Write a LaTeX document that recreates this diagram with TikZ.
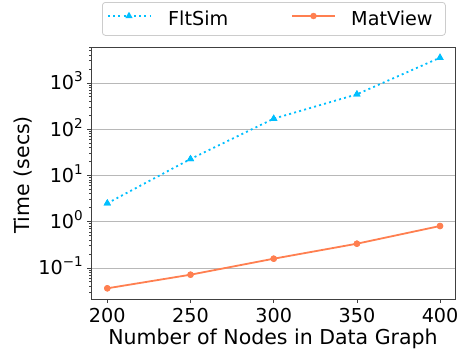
\documentclass[tikz,border=0pt]{standalone}
\usepackage{fontspec}
\setmainfont{DejaVu Sans}
\usetikzlibrary{shapes.geometric}
\definecolor{flt}{HTML}{00BFFF}
\definecolor{mat}{HTML}{FF7F50}
\definecolor{gridc}{HTML}{B8B8B8}
\definecolor{legc}{HTML}{CCCCCC}
\definecolor{axc}{HTML}{404040}
\newcommand\supsc[1]{\raisebox{0.42em}{\fontsize{13.5}{13.5}\selectfont #1}}
\begin{document}
\begin{tikzpicture}[x=1pt,y=-1pt,
  tri/.style={regular polygon, regular polygon sides=3, fill=flt, draw=none, inner sep=0pt, minimum size=8.5pt},
  cdot/.style={circle, fill=mat, draw=none, inner sep=0pt, minimum size=6.5pt},
  ticklab/.style={font=\fontsize{19.2}{19.2}\selectfont, inner sep=0pt},
  axlab/.style={font=\fontsize{20.5}{20.5}\selectfont, inner sep=0pt},
  fltline/.style={flt, line width=1.8pt, dash pattern=on 2pt off 3.2pt},
  matline/.style={mat, line width=1.8pt},
  gridline/.style={gridc, line width=0.8pt},
  tickline/.style={axc, line width=0.8pt}]
\useasboundingbox (0,0) rectangle (458,356);
% grid lines
\foreach \k in {-1,0,1,2,3}{
  \draw[gridline] (91,{221.7-46.25*\k}) -- (455,{221.7-46.25*\k});
}
% minor ticks
\begin{scope}
\clip (80,47) rectangle (95,299);
\foreach \k in {-2,-1,0,1,2,3}{
  \foreach \m in {2,...,9}{
    \draw[tickline] (89,{221.7-46.25*(\k+log10(\m))}) -- (91,{221.7-46.25*(\k+log10(\m))});
  }
}
\end{scope}
% major y ticks and labels
\foreach \k/\t in {-1/{−1},0/0,1/1,2/2,3/3}{
  \draw[tickline] (87,{221.7-46.25*\k}) -- (91,{221.7-46.25*\k});
  \node[ticklab, anchor=base east] (yl\k) at (83,{221.7-46.25*\k+6.9}) {10\supsc{\t}};
}
% x ticks and labels
\foreach \v in {200,250,300,350,400}{
  \draw[tickline] ({107.3+(\v-200)*1.664},299) -- ({107.3+(\v-200)*1.664},303);
  \node[ticklab, anchor=north] (xl\v) at ({107.3+(\v-200)*1.664},308) {\v};
}
% frame
\node[draw=axc, line width=0.8pt, minimum width=364pt, minimum height=252pt, inner sep=0pt, anchor=north west] (axes) at (91,47) {};
% axis labels
\node[axlab, anchor=base] (xlabel) at (273,344) {Number of Nodes in Data Graph};
\node[axlab, anchor=base, rotate=90] (ylabel) at (29.5,175) {Time (secs)};
% FltSim
\node[tri] (f1) at (107.3,203.3) {};
\node[tri] (f2) at (190.5,159) {};
\node[tri] (f3) at (273.7,118.7) {};
\node[tri] (f4) at (356.9,94.3) {};
\node[tri] (f5) at (440,57.7) {};
\draw[fltline] (f1.center) -- (f2.center) -- (f3.center) -- (f4.center) -- (f5.center);
\foreach \i in {1,...,5}{\node[tri] at (f\i.center) {};}
% MatView
\node[cdot] (m1) at (107.3,288.3) {};
\node[cdot] (m2) at (190.5,274.7) {};
\node[cdot] (m3) at (273.7,258.7) {};
\node[cdot] (m4) at (356.9,243.7) {};
\node[cdot] (m5) at (440,226) {};
\draw[matline] (m1.center) -- (m2.center) -- (m3.center) -- (m4.center) -- (m5.center);
\foreach \i in {1,...,5}{\node[cdot] at (m\i.center) {};}
% legend
\node[draw=legc, fill=white, line width=0.8pt, rounded corners=3pt, minimum width=343pt, minimum height=33pt, inner sep=0pt, anchor=north west] (legend) at (102,2) {};
\coordinate (lfa) at (108,16);
\coordinate (lfb) at (150,16);
\draw[fltline] (lfa) -- (lfb);
\node[tri] (lft) at (129,16) {};
\node[ticklab, anchor=base west] (lftext) at (168,25.5) {FltSim};
\coordinate (lma) at (292,16);
\coordinate (lmb) at (335,16);
\draw[matline] (lma) -- (lmb);
\node[cdot] (lmd) at (313.5,16) {};
\node[ticklab, anchor=base west] (lmtext) at (351,25.5) {MatView};
\end{tikzpicture}
\end{document}
